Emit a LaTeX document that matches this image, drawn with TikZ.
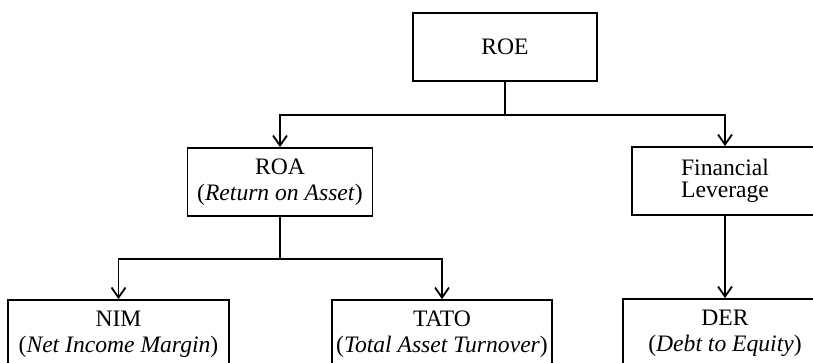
\documentclass[tikz,border=0pt]{standalone}
\usepackage{fontspec}
\setmainfont{Liberation Serif}
\usetikzlibrary{arrows.meta}

\begin{document}
\begin{tikzpicture}
  [x=0.5pt,y=-0.5pt,
  box/.style={draw,line width=0.9pt,rectangle,align=center,minimum height=34pt,
    inner sep=0pt,font=\fontsize{11.8}{13}\selectfont},
  arr/.style={line width=0.9pt,-{Straight Barb[length=5pt,width=7pt,line width=0.9pt]}}]

  \useasboundingbox (0,0) rectangle (813,363);

  \node[box,minimum width=92pt] (roe) at (505,47) {ROE};

  \node[box,minimum width=92.5pt] (roa) at (280,182) {ROA\\(\textit{Return on Asset})};
  \node[box,minimum width=93pt] (fl) at (725,181) {Financial\\[-2pt]Leverage};

  \node[box,minimum width=110.5pt] (nim) at (118.5,334) {NIM\\(\textit{Net Income Margin})};
  \node[box,minimum width=110pt] (tato) at (442,334) {TATO\\(\textit{Total Asset Turnover})};
  \node[box,minimum width=102pt] (der) at (725,333) {DER\\(\textit{Debt to Equity})};

  \path (roe.south) ++(0,33) coordinate (split1);
  \path (roa.south) ++(0,42) coordinate (split2);

  \draw[line width=0.9pt] (roe.south) -- (split1);
  \draw[arr] (split1) -| (roa.north);
  \draw[arr] (split1) -| (fl.north);

  \draw[line width=0.9pt] (roa.south) -- (split2);
  \draw[arr] (split2) -| (nim.north);
  \draw[arr] (split2) -| (tato.north);

  \draw[arr] (fl.south) -- (der.north);

\end{tikzpicture}
\end{document}
